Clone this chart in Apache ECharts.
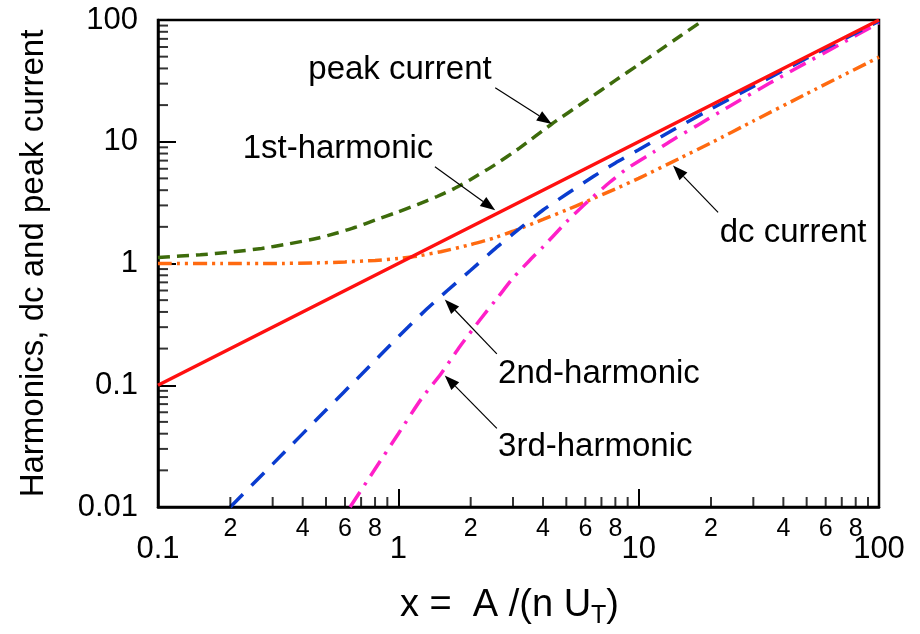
<!DOCTYPE html>
<html>
<head>
<meta charset="utf-8">
<script src="https://cdn.jsdelivr.net/npm/echarts@6.0.0/dist/echarts.min.js"></script>
<style>
  html, body { margin: 0; padding: 0; background: #fff; }
  #chart { width: 920px; height: 634px; }
</style>
</head>
<body>
<div id="chart"></div>
<script>
// 数据：x = A/(n U_T)，各曲线为 [x, y]
const firstHarmonic = [[0.1, 0.1], [1, 1], [10, 10], [100, 100]];
const peakCurrent = [
  [0.1, 1.12], [0.15, 1.18], [0.2, 1.24], [0.27, 1.33], [0.35, 1.45],
  [0.46, 1.61], [0.56, 1.79], [0.67, 2.0], [0.8, 2.27], [0.98, 2.62],
  [1.2, 3.05], [1.45, 3.55], [1.7, 4.1], [2.0, 4.9], [2.5, 6.4],
  [3.2, 8.9], [4.35, 14.0], [6, 21.6], [8, 31.9], [10, 43], [12, 55],
  [15, 74.5], [18.5, 99]
];
const dcCurrent = [
  [0.1, 1.0], [0.2, 1.0], [0.3, 1.0], [0.45, 1.01], [0.6, 1.03],
  [0.8, 1.06], [1.0, 1.1], [1.2, 1.15], [1.5, 1.25], [2, 1.43],
  [2.5, 1.62], [3, 1.84], [4, 2.3], [5, 2.75], [6, 3.2], [8, 4.1],
  [10, 5.0], [15, 7.4], [20, 9.8], [30, 14.8], [50, 24.8], [100, 49.5]
];
const secondHarmonic = [
  [0.2, 0.01], [0.3, 0.0225], [0.5, 0.0625], [0.7, 0.122], [1.0, 0.25],
  [1.3, 0.415], [1.6, 0.6], [2.0, 0.88], [2.5, 1.3], [3, 1.75], [4, 2.75],
  [5, 3.7], [6.5, 5.2], [8, 6.7], [10, 8.6], [14, 12.6], [20, 18.6],
  [30, 28.5], [50, 48.5], [100, 98]
];
const thirdHarmonic = [
  [0.63, 0.01], [0.8, 0.0205], [1.0, 0.04], [1.25, 0.078], [1.5, 0.123],
  [1.8, 0.207], [2.2, 0.35], [2.6, 0.53], [3, 0.76], [3.5, 1.05],
  [4, 1.37], [5, 2.19], [6, 3.1], [7.6, 4.67], [9, 6.07], [11.5, 8.2],
  [14, 10.5], [17.4, 13.5], [24, 19.7], [35, 30.2], [45.5, 40.4],
  [70, 64.3], [100, 95]
];

// 刻度
const xDecades = [0.1, 1, 10];
const yDecades = [0.01, 0.1, 1, 10];
const minorSteps = [2, 3, 4, 5, 6, 7, 8, 9];
const labelledSteps = [2, 4, 6, 8];

const FONT = 'Arial, "Liberation Sans", Helvetica, sans-serif';
const AXIS_MIN_X = 0.1, AXIS_MIN_Y = 0.01;

const xMinorTicks = [];
const xMinorLabels = [];
xDecades.forEach(d => minorSteps.forEach(s => {
  const v = +(d * s).toPrecision(3);
  xMinorTicks.push([v, AXIS_MIN_Y]);
  if (labelledSteps.includes(s)) xMinorLabels.push({ value: [v, AXIS_MIN_Y], name: String(s) });
}));
const yMinorTicks = [];
yDecades.forEach(d => minorSteps.forEach(s => {
  yMinorTicks.push([AXIS_MIN_X, +(d * s).toPrecision(3)]);
}));

// 注释文字和箭头（数据坐标）
const annotations = [
  { text: 'peak current', at: [1.016, 39.2], align: 'center', tail: [2.53, 27.8], tip: [4.35, 14.0] },
  { text: '1st-harmonic', at: [0.561, 8.73], align: 'center', tail: [1.42, 6.23], tip: [2.53, 2.74] },
  { text: 'dc current', at: [43.9, 1.77], align: 'center', tail: [21.4, 2.63], tip: [13.9, 6.38] },
  { text: '2nd-harmonic', at: [2.60, 0.124], align: 'left', tail: [2.57, 0.181], tip: [1.56, 0.507] },
  { text: '3rd-harmonic', at: [2.60, 0.0314], align: 'left', tail: [2.57, 0.0443], tip: [1.56, 0.1205] }
];

const chart = echarts.init(document.getElementById('chart'), null, { renderer: 'canvas' });

function curve(name, data, color, type, smooth, z) {
  return {
    name, type: 'line', data, showSymbol: false, symbol: 'none',
    smooth: smooth, z: z || 2,
    lineStyle: { color, width: 3.5, type, cap: 'butt' },
    silent: true, animation: false
  };
}

const option = {
  animation: false,
  backgroundColor: '#fff',
  grid: {
    left: 158, right: 41, top: 20, bottom: 123,
    show: true, borderColor: '#000', borderWidth: 2.5, backgroundColor: 'transparent'
  },
  xAxis: {
    type: 'log', logBase: 10, min: 0.1, max: 100,
    name: '{a|x =  A /(n U}{b|T}{a|)}',
    nameLocation: 'middle', nameGap: 76,
    nameTextStyle: {
      padding: [0, 18, 0, 0],
      rich: {
        a: { fontSize: 38, fontFamily: FONT, color: '#000', lineHeight: 46 },
        b: { fontSize: 25, fontFamily: FONT, color: '#000', verticalAlign: 'bottom' }
      }
    },
    axisLine: { show: true, lineStyle: { color: '#000', width: 2.5 } },
    axisTick: { show: true, inside: true, length: 18, lineStyle: { color: '#000', width: 2 } },
    axisLabel: { fontSize: 31, fontFamily: FONT, color: '#000', margin: 27 },
    splitLine: { show: false },
    minorTick: { show: false }
  },
  yAxis: {
    type: 'log', logBase: 10, min: 0.01, max: 100,
    name: 'Harmonics, dc and peak current',
    nameLocation: 'middle', nameGap: 108,
    nameTextStyle: { fontSize: 33, fontFamily: FONT, color: '#000' },
    axisLine: { show: true, lineStyle: { color: '#000', width: 2.5 } },
    axisTick: { show: true, inside: true, length: 18, lineStyle: { color: '#000', width: 2 } },
    axisLabel: { fontSize: 31, fontFamily: FONT, color: '#000', margin: 20 },
    splitLine: { show: false },
    minorTick: { show: false }
  },
  series: [
    curve('peak current', peakCurrent, '#3d6b0b', [12, 7], 0.2),
    curve('dc current', dcCurrent, '#ff6a10', [14, 5, 3, 5, 3, 5], 0.2),
    curve('3rd-harmonic', thirdHarmonic, '#ff1fc8', [18, 8, 3, 8], 0.2),
    curve('2nd-harmonic', secondHarmonic, '#0a3ccf', [18, 12], 0.2),
    curve('1st-harmonic', firstHarmonic, '#ff1010', 'solid', false, 3),
    {
      // x 次刻度
      type: 'scatter', data: xMinorTicks, symbol: 'rect', symbolSize: [2, 10],
      symbolOffset: [0, '-50%'], itemStyle: { color: '#000' }, silent: true, z: 5, clip: false
    },
    {
      // y 次刻度
      type: 'scatter', data: yMinorTicks, symbol: 'rect', symbolSize: [10, 2],
      symbolOffset: ['50%', 0], itemStyle: { color: '#000' }, silent: true, z: 5, clip: false
    },
    {
      // x 次刻度标签
      type: 'scatter', data: xMinorLabels, symbolSize: 1, clip: false,
      itemStyle: { color: 'rgba(0,0,0,0)' }, silent: true,
      label: {
        show: true, position: 'bottom', distance: 9, formatter: '{b}',
        fontSize: 25, fontFamily: FONT, color: '#000', opacity: 1
      }
    }
  ]
};

chart.setOption(option);

// 注释：用坐标转换得到像素位置
function arrowGraphics(a) {
  const p0 = chart.convertToPixel({ gridIndex: 0 }, a.tail);
  const p1 = chart.convertToPixel({ gridIndex: 0 }, a.tip);
  const t = chart.convertToPixel({ gridIndex: 0 }, a.at);
  const ang = Math.atan2(p1[1] - p0[1], p1[0] - p0[0]);
  const len = 15, half = 5.5;
  const bx = p1[0] - len * Math.cos(ang), by = p1[1] - len * Math.sin(ang);
  const nx = -Math.sin(ang), ny = Math.cos(ang);
  return [
    {
      type: 'line', silent: true, z: 10,
      shape: { x1: p0[0], y1: p0[1], x2: bx, y2: by },
      style: { stroke: '#000', lineWidth: 1.2 }
    },
    {
      type: 'polygon', silent: true, z: 10,
      shape: { points: [p1, [bx + nx * half, by + ny * half], [bx - nx * half, by - ny * half]] },
      style: { fill: '#000' }
    },
    {
      type: 'text', silent: true, z: 10, x: t[0], y: t[1],
      style: {
        text: a.text, fontSize: 33, fontFamily: FONT, fill: '#000',
        align: a.align, verticalAlign: 'middle'
      }
    }
  ];
}

let graphics = [];
annotations.forEach(a => { graphics = graphics.concat(arrowGraphics(a)); });
chart.setOption({ graphic: { elements: graphics } });
</script>
</body>
</html>
